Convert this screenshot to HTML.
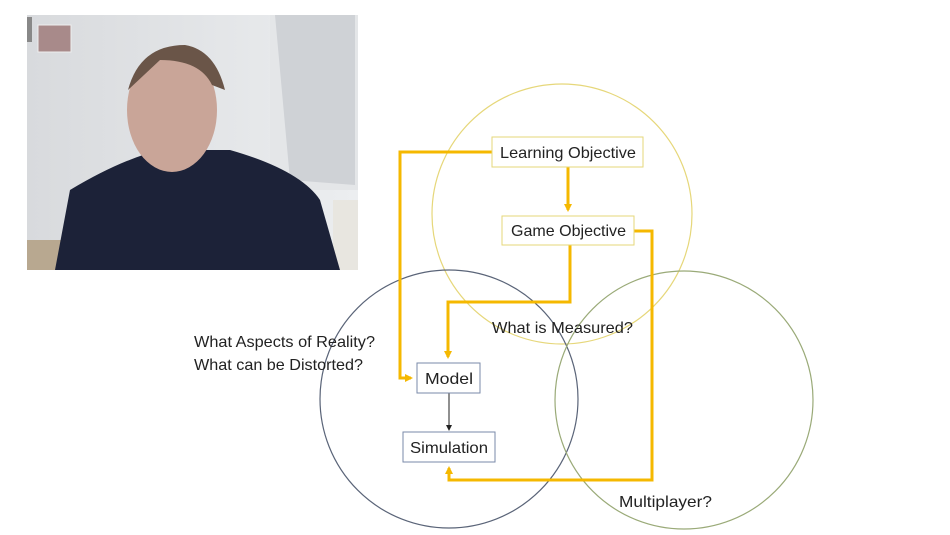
<!DOCTYPE html>
<html><head><meta charset="utf-8"><style>
html,body{margin:0;padding:0;background:#fff;}
svg{display:block;}
text{font-family:"Liberation Sans",sans-serif;font-size:16px;fill:#222;}
</style></head><body>
<svg width="950" height="535" viewBox="0 0 950 535" xmlns="http://www.w3.org/2000/svg">
<defs>
<marker id="oa" markerWidth="8" markerHeight="8" refX="6" refY="4" orient="auto" markerUnits="userSpaceOnUse"><path d="M0,0 L8,4 L0,8 z" fill="#f5b800"/></marker>
<marker id="ba" markerWidth="6" markerHeight="6" refX="5" refY="3" orient="auto" markerUnits="userSpaceOnUse"><path d="M0,0 L6,3 L0,6 z" fill="#222"/></marker>
<linearGradient id="wall" x1="0" x2="1"><stop offset="0" stop-color="#d8dadd"/><stop offset="1" stop-color="#eceef0"/></linearGradient>
</defs>
<rect x="27" y="15" width="331" height="255" fill="url(#wall)"/>
<rect x="270" y="15" width="88" height="175" fill="#e4e6e8"/>
<path d="M275 15 L355 15 L355 185 L290 180 Z" fill="#cfd2d6"/>
<rect x="333" y="200" width="25" height="70" fill="#e8e6e0"/>
<rect x="27" y="240" width="40" height="30" fill="#b8a890"/>
<rect x="38" y="25" width="33" height="27" fill="#a88a8a" stroke="#eee"/>
<rect x="27" y="17" width="5" height="25" fill="#888"/>
<path d="M55 270 L70 190 Q120 160 160 150 L230 150 Q300 170 320 200 L340 270 Z" fill="#1c2238"/>
<ellipse cx="172" cy="110" rx="45" ry="62" fill="#c9a598"/>
<path d="M128 90 Q140 45 185 45 Q215 50 225 90 L212 85 Q200 60 160 60 Z" fill="#6a5548"/>
<circle cx="562" cy="214" r="130" fill="none" stroke="#e6d77a" stroke-width="1.2"/>
<circle cx="449" cy="399" r="129" fill="none" stroke="#5a6478" stroke-width="1.2"/>
<circle cx="684" cy="400" r="129" fill="none" stroke="#9aaa78" stroke-width="1.2"/>
<g fill="none" stroke="#f5b800" stroke-width="3">
<polyline points="492,152 400,152 400,378 411,378" marker-end="url(#oa)"/>
<polyline points="568,167 568,210" marker-end="url(#oa)"/>
<polyline points="570,245 570,302 448,302 448,357" marker-end="url(#oa)"/>
<polyline points="634,231 652,231 652,480 449,480 449,468" marker-end="url(#oa)"/>
</g>
<line x1="449" y1="393" x2="449" y2="430" stroke="#222" stroke-width="1" marker-end="url(#ba)"/>
<rect x="492" y="137" width="151" height="30" fill="#fff" stroke="#e6d77a"/>
<text x="500" y="158" textLength="136" lengthAdjust="spacingAndGlyphs">Learning Objective</text>
<rect x="502" y="216" width="132" height="29" fill="#fff" stroke="#e6d77a"/>
<text x="511" y="236" textLength="115" lengthAdjust="spacingAndGlyphs">Game Objective</text>
<rect x="417" y="363" width="63" height="30" fill="#fff" stroke="#7a8aa8"/>
<text x="425" y="384" textLength="48" lengthAdjust="spacingAndGlyphs">Model</text>
<rect x="403" y="432" width="92" height="30" fill="#fff" stroke="#7a8aa8"/>
<text x="410" y="453" textLength="78" lengthAdjust="spacingAndGlyphs">Simulation</text>
<text x="194" y="347" textLength="181" lengthAdjust="spacingAndGlyphs">What Aspects of Reality?</text>
<text x="194" y="370" textLength="169" lengthAdjust="spacingAndGlyphs">What can be Distorted?</text>
<text x="492" y="333" textLength="141" lengthAdjust="spacingAndGlyphs">What is Measured?</text>
<text x="619" y="507" textLength="93" lengthAdjust="spacingAndGlyphs">Multiplayer?</text>
</svg>
</body></html>
